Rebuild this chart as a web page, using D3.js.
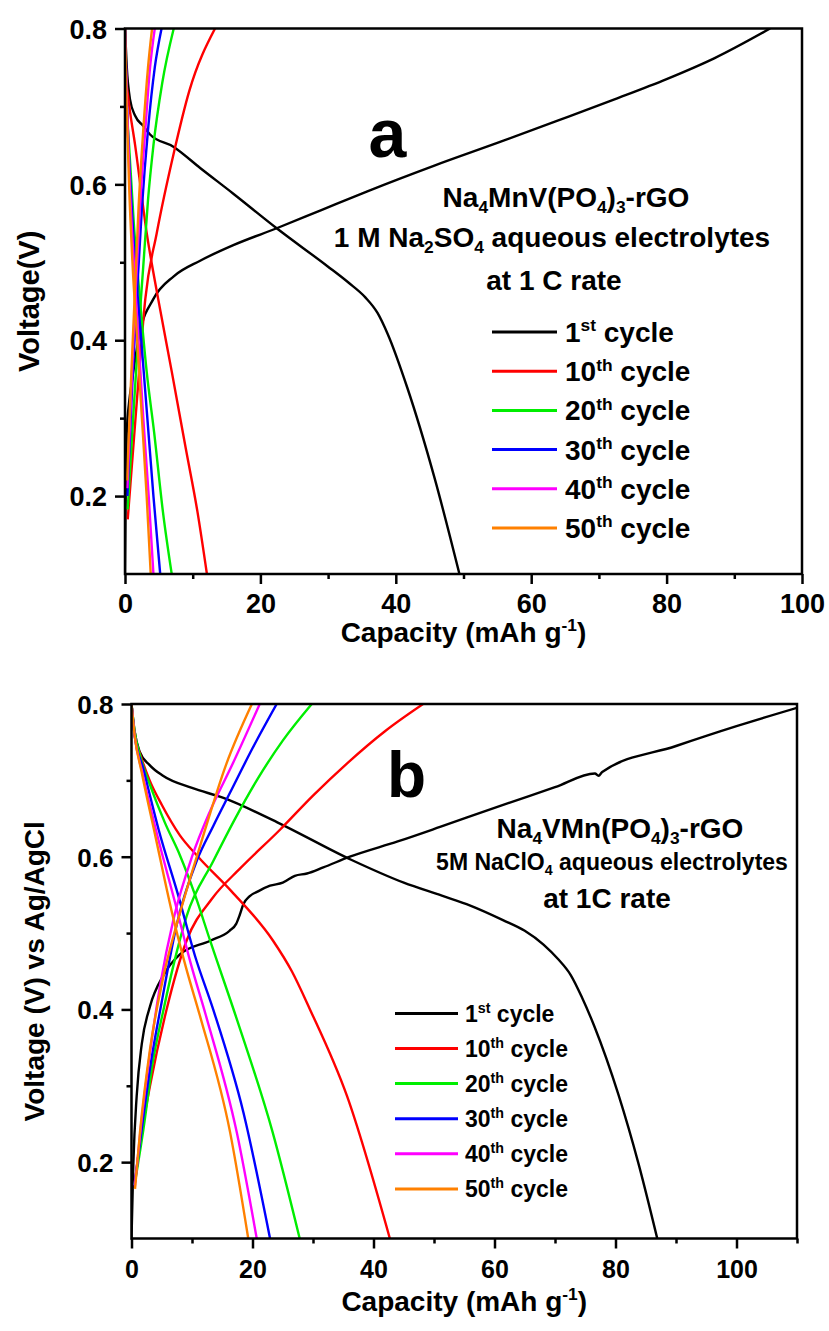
<!DOCTYPE html>
<html>
<head>
<meta charset="utf-8">
<script src="https://cdn.jsdelivr.net/npm/d3@7"></script>
<style>
  html, body { margin: 0; padding: 0; background: #fff; }
  svg text { font-family: "Liberation Sans", Arial, sans-serif; font-weight: bold; fill: #000; }
</style>
</head>
<body>
<svg id="chart" width="829" height="1331"></svg>
<script>
// ---------------- DATA ----------------
const cycleNumbers = ["1", "10", "20", "30", "40", "50"];
const cycleSuffixes = ["st", "th", "th", "th", "th", "th"];
const cycleColors = ["#000000", "#ff0000", "#00ee00", "#0000ff", "#ff00ff", "#ff8000"];

const xTicksA = [0, 20, 40, 60, 80, 100];
const xMinorA = [10, 30, 50, 70, 90];
const xTicksB = [0, 20, 40, 60, 80, 100];
const xMinorB = [10, 30, 50, 70, 90, 110];
const yTicks = [0.2, 0.4, 0.6, 0.8];
const yMinor = [0.3, 0.5, 0.7];

// Panel a: [capacity (mAh/g), voltage (V)]
const aCharge1 = [[0,0.1],[0.1,0.2],[0.25,0.28],[0.6,0.32],[1.0,0.346],[2.2,0.41],[4.2,0.453],[7.2,0.482],[11.1,0.502],[16,0.522],[22.5,0.544],[29,0.567],[35.8,0.591],[45.7,0.624],[55.6,0.655],[64,0.682],[72.3,0.709],[80,0.735],[87.1,0.762],[95.3,0.8]];
const aDischarge1 = [[0,0.8],[0.25,0.752],[0.74,0.709],[1.5,0.688],[2.7,0.675],[3.7,0.664],[7.2,0.648],[11.1,0.621],[16,0.588],[22.5,0.543],[29.9,0.495],[33,0.474],[35.5,0.455],[37.3,0.435],[38.8,0.408],[41.7,0.339],[45.7,0.224],[49.4,0.1]];
const aCharge10 = [[0.4,0.17],[1.2,0.26],[2.0,0.35],[3.0,0.453],[4.7,0.538],[7.2,0.64],[9.5,0.72],[13.3,0.8]];
const aDischarge10 = [[0,0.8],[0.15,0.74],[0.5,0.71],[1.5,0.65],[3.2,0.538],[4.9,0.453],[6.9,0.36],[9.0,0.26],[10.7,0.18],[12.1,0.1]];
const aCharge20 = [[0.4,0.183],[1.2,0.3],[2.0,0.41],[2.7,0.495],[3.4,0.58],[4.2,0.65],[5.5,0.73],[7.2,0.8]];
const aDischarge20 = [[0,0.8],[0.2,0.72],[0.6,0.65],[1.3,0.55],[2.2,0.453],[3.2,0.36],[4.3,0.282],[5.6,0.18],[6.9,0.1]];
const aCharge30 = [[0.35,0.2],[1.0,0.33],[1.7,0.45],[2.5,0.57],[3.4,0.67],[4.4,0.75],[5.4,0.8]];
const aDischarge30 = [[0,0.8],[0.3,0.7],[0.8,0.6],[1.5,0.5],[2.4,0.4],[3.3,0.3],[4.2,0.2],[5.2,0.1]];
const aCharge40 = [[0.35,0.21],[0.9,0.33],[1.5,0.45],[2.2,0.57],[3.0,0.67],[3.7,0.75],[4.4,0.8]];
const aDischarge40 = [[0,0.8],[0.3,0.7],[0.7,0.6],[1.3,0.5],[2.0,0.4],[2.7,0.3],[3.5,0.2],[4.2,0.1]];
const aCharge50 = [[0.3,0.22],[0.8,0.33],[1.4,0.45],[2.0,0.57],[2.7,0.67],[3.4,0.75],[4.0,0.8]];
const aDischarge50 = [[0,0.8],[0.25,0.7],[0.6,0.6],[1.1,0.5],[1.8,0.4],[2.5,0.3],[3.2,0.2],[3.8,0.1]];

// Panel b
const bCharge1 = [[0,0.1],[0.3,0.197],[0.86,0.287],[1.7,0.355],[3.06,0.404],[5.3,0.445],[8.0,0.472],[13.0,0.49],[16.2,0.503],[17.3,0.512],[17.9,0.524],[18.5,0.538],[19.5,0.548],[21,0.555],[22.9,0.562],[25,0.566],[27,0.575],[29,0.578],[31.7,0.586],[36.1,0.6],[44,0.62],[51,0.639],[60,0.664],[70,0.691],[76.6,0.709],[77.2,0.706],[77.8,0.711],[90,0.745],[100,0.771],[110,0.795]];
const bDischarge1 = [[0,0.8],[0.5,0.765],[1.33,0.738],[3,0.72],[5.2,0.706],[10,0.69],[15.2,0.677],[24.1,0.645],[36.3,0.596],[45,0.566],[51.3,0.549],[56,0.536],[61.4,0.517],[65,0.503],[68.1,0.485],[70.5,0.466],[72.6,0.445],[74.5,0.415],[76.5,0.378],[80.5,0.288],[83.8,0.198],[86.9,0.1]];
const bCharge10 = [[0.5,0.17],[1.5,0.23],[3.06,0.3],[5.8,0.4],[9.1,0.49],[13.3,0.545],[18,0.585],[24.5,0.635],[30,0.68],[35.6,0.722],[42,0.765],[48.2,0.8]];
const bDischarge10 = [[0,0.8],[0.5,0.76],[1.4,0.735],[3,0.7],[5,0.668],[8,0.628],[11,0.6],[16.5,0.555],[23.4,0.49],[26.5,0.45],[29.5,0.4],[35.6,0.287],[42.7,0.1]];
const bCharge20 = [[0.5,0.17],[1.95,0.242],[3.5,0.33],[5.3,0.4],[7,0.46],[9.1,0.522],[13.5,0.594],[17,0.648],[20.7,0.7],[25,0.752],[29.8,0.8]];
const bDischarge20 = [[0,0.8],[0.5,0.765],[1.5,0.73],[3.1,0.693],[5.5,0.645],[8,0.602],[10.5,0.55],[13,0.49],[17.5,0.385],[23.3,0.24],[27.8,0.1]];
const bCharge30 = [[0.5,0.17],[1.8,0.25],[3.2,0.33],[5,0.41],[7.5,0.512],[10.8,0.595],[13.5,0.64],[16.3,0.684],[20,0.742],[24.0,0.8]];
const bDischarge30 = [[0,0.8],[0.5,0.76],[1.95,0.715],[4.5,0.635],[7.7,0.55],[10.5,0.47],[13.5,0.4],[18.5,0.265],[22.9,0.1]];
const bCharge40 = [[0.55,0.168],[1.6,0.25],[3,0.34],[4.7,0.43],[7,0.52],[10,0.6],[13,0.66],[16.8,0.723],[21.2,0.8]];
const bDischarge40 = [[0,0.8],[0.5,0.76],[1.8,0.71],[4.2,0.63],[7.2,0.54],[9.8,0.46],[12.3,0.392],[17.4,0.239],[20.7,0.1]];
const bCharge50 = [[0.58,0.165],[1.4,0.239],[3.06,0.348],[5.3,0.444],[8,0.526],[11.3,0.613],[15.7,0.722],[19.9,0.8]];
const bDischarge50 = [[0,0.8],[0.5,0.76],[1.7,0.71],[4,0.625],[6.6,0.53],[9,0.455],[11.3,0.392],[16.3,0.239],[19.3,0.1]];

const seriesA = [[aCharge1, aDischarge1],[aCharge10, aDischarge10],[aCharge20, aDischarge20],[aCharge30, aDischarge30],[aCharge40, aDischarge40],[aCharge50, aDischarge50]];
const seriesB = [[bCharge1, bDischarge1],[bCharge10, bDischarge10],[bCharge20, bDischarge20],[bCharge30, bDischarge30],[bCharge40, bDischarge40],[bCharge50, bDischarge50]];

// ---------------- DRAWING ----------------
const svg = d3.select("#chart");

function richText(g, x, y, parts, size, anchor) {
  const t = g.append("text").attr("x", x).attr("y", y)
    .attr("text-anchor", anchor || "start").style("font-size", size + "px");
  let cur = 0;
  parts.forEach(([str, type]) => {
    const off = type === "sub" ? size * 0.22 : type === "sup" ? -size * 0.38 : 0;
    const ts = t.append("tspan").text(str).attr("dy", off - cur);
    if (type) ts.style("font-size", (size * 0.62) + "px");
    cur = off;
  });
  return t;
}

function panel(cfg) {
  const g = svg.append("g");
  const x = d3.scaleLinear().domain(cfg.xDomain).range([cfg.left, cfg.right]);
  const y = d3.scaleLinear().domain([0.1, 0.8]).range([cfg.bottom, cfg.top]);
  const clipId = "clip" + cfg.id;
  svg.append("clipPath").attr("id", clipId).append("rect")
    .attr("x", cfg.left).attr("y", cfg.top)
    .attr("width", cfg.right - cfg.left).attr("height", cfg.bottom - cfg.top);

  const line = d3.line().x(d => x(d[0])).y(d => y(d[1])).curve(d3.curveMonotoneX);
  const curves = g.append("g").attr("clip-path", `url(#${clipId})`);
  cfg.series.forEach((pair, i) => {
    pair.forEach(arr => {
      curves.append("path").attr("d", line(arr)).attr("fill", "none")
        .attr("stroke", cycleColors[i]).attr("stroke-width", 2.4)
        .attr("stroke-linejoin", "round");
    });
  });

  // axes
  const xAxis = g.append("g").attr("transform", `translate(0,${cfg.bottom})`)
    .call(d3.axisBottom(x).tickValues(cfg.xTicks).tickSize(10).tickSizeOuter(0).tickPadding(6).tickFormat(d3.format("d")));
  const xMin = g.append("g").attr("transform", `translate(0,${cfg.bottom})`)
    .call(d3.axisBottom(x).tickValues(cfg.xMinor).tickSize(5).tickSizeOuter(0).tickFormat(""));
  const yAxis = g.append("g").attr("transform", `translate(${cfg.left},0)`)
    .call(d3.axisLeft(y).tickValues(yTicks).tickSize(10).tickSizeOuter(0).tickPadding(8).tickFormat(d3.format(".1f")));
  const yMin = g.append("g").attr("transform", `translate(${cfg.left},0)`)
    .call(d3.axisLeft(y).tickValues(yMinor).tickSize(5).tickSizeOuter(0).tickFormat(""));
  [xAxis, xMin, yAxis, yMin].forEach(a => {
    a.select(".domain").remove();
    a.selectAll("line").attr("stroke", "#000").attr("stroke-width", 2.5);
  });
  xAxis.selectAll("text").style("font-size", cfg.xTickSize + "px").attr("dy", null).attr("y", cfg.xTickY);
  yAxis.selectAll("text").style("font-size", cfg.yTickSize + "px").attr("dy", "0.36em");

  g.append("rect").attr("x", cfg.left).attr("y", cfg.top)
    .attr("width", cfg.right - cfg.left).attr("height", cfg.bottom - cfg.top)
    .attr("fill", "none").attr("stroke", "#000").attr("stroke-width", 2.5);

  // axis titles
  richText(g, (cfg.left + cfg.right) / 2, cfg.xTitleY,
    [["Capacity (mAh g", null], ["-1", "sup"], [")", null]], 28, "middle");
  const yt = g.append("g").attr("transform", `translate(${cfg.yTitleX},${(cfg.top + cfg.bottom) / 2}) rotate(-90)`);
  richText(yt, 0, 0, [[cfg.yTitle, null]], cfg.yTitleSize, "middle");

  // panel letter
  g.append("text").attr("x", cfg.letterX).attr("y", cfg.letterY).attr("text-anchor", "middle")
    .style("font-size", cfg.letterSize + "px").text(cfg.letter);

  // annotations
  cfg.notes.forEach(n => richText(g, n.x, n.y, n.parts, n.size, "middle"));

  // legend
  cycleNumbers.forEach((num, i) => {
    const ly = cfg.legY + i * cfg.legStep;
    g.append("line").attr("x1", cfg.legX1).attr("x2", cfg.legX2).attr("y1", ly).attr("y2", ly)
      .attr("stroke", cycleColors[i]).attr("stroke-width", 3);
    richText(g, cfg.legTextX, ly + cfg.legSize * 0.36,
      [[num, null], [cycleSuffixes[i], "sup"], [" cycle", null]], cfg.legSize, "start");
  });
}

panel({
  id: "a", xDomain: [0, 100], left: 125, right: 802, top: 28.5, bottom: 574,
  series: seriesA, xTicks: xTicksA, xMinor: xMinorA,
  xTickSize: 27, xTickY: 39, yTickSize: 27,
  xTitleY: 642, yTitleX: 39, yTitle: "Voltage(V)", yTitleSize: 29,
  letter: "a", letterX: 387.5, letterY: 157, letterSize: 68,
  notes: [
    { x: 566, y: 207, size: 28, parts: [["Na", null], ["4", "sub"], ["MnV(PO", null], ["4", "sub"], [")", null], ["3", "sub"], ["-rGO", null]] },
    { x: 552, y: 247, size: 28, parts: [["1 M Na", null], ["2", "sub"], ["SO", null], ["4", "sub"], [" aqueous electrolytes", null]] },
    { x: 554, y: 290, size: 28, parts: [["at 1 C rate", null]] }
  ],
  legY: 332, legStep: 39.2, legX1: 492, legX2: 557, legTextX: 565, legSize: 28
});

panel({
  id: "b", xDomain: [0, 110], left: 131.5, right: 797, top: 704, bottom: 1238.5,
  series: seriesB, xTicks: xTicksB, xMinor: xMinorB,
  xTickSize: 25, xTickY: 39, yTickSize: 26,
  xTitleY: 1311, yTitleX: 44, yTitle: "Voltage (V) vs Ag/AgCl", yTitleSize: 28,
  letter: "b", letterX: 406.5, letterY: 797, letterSize: 64,
  notes: [
    { x: 620, y: 838, size: 28, parts: [["Na", null], ["4", "sub"], ["VMn(PO", null], ["4", "sub"], [")", null], ["3", "sub"], ["-rGO", null]] },
    { x: 612, y: 870, size: 23, parts: [["5M NaClO", null], ["4", "sub"], [" aqueous electrolytes", null]] },
    { x: 607, y: 908, size: 28, parts: [["at 1C rate", null]] }
  ],
  legY: 1013.4, legStep: 35.1, legX1: 395, legX2: 458, legTextX: 465, legSize: 23
});
</script>
</body>
</html>
